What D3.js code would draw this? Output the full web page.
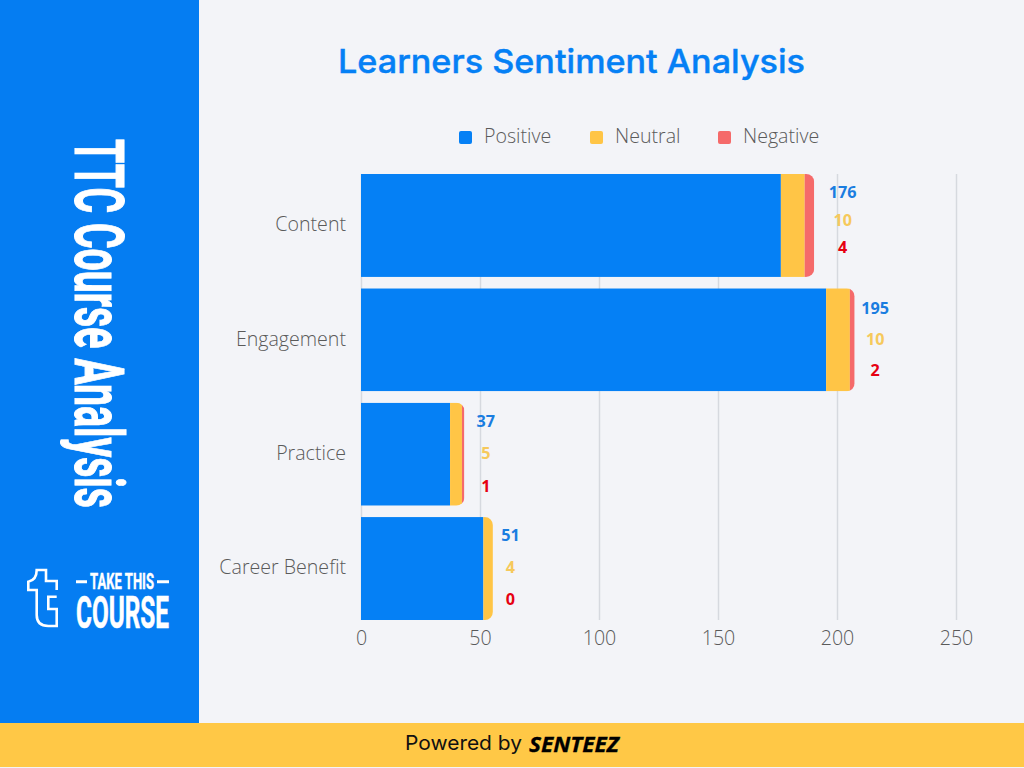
<!DOCTYPE html>
<html>
<head>
<meta charset="utf-8">
<script src="https://cdn.jsdelivr.net/npm/d3@7"></script>
<style>
html, body { margin: 0; padding: 0; background: #f3f4f8; }
svg { display: block; }
text { font-family: "Open Sans", sans-serif; }
.axis text { font-weight: 300; font-size: 19.6px; fill: #5a5a5a; }
.axis .domain { display: none; }
</style>
</head>
<body>
<svg id="chart" width="1024" height="768"></svg>
<script>
// chart values
var categories = ["Content", "Engagement", "Practice", "Career Benefit"];
var positive = [176, 195, 37, 51];
var neutral = [10, 10, 5, 4];
var negative = [4, 2, 1, 0];
var seriesNames = ["Positive", "Neutral", "Negative"];
var xTicks = [0, 50, 100, 150, 200, 250];

var barColors = ["#0580f5", "#ffc546", "#f56a6a"];
var labelColors = ["#1a7de0", "#f6c95c", "#e60012"];
// the value labels are not placed evenly in the original
var labelGap = [28.5, 20.5, 21.5, 17.5];
var labelRow = [27.5, 31, 32.5, 32];
var labelShift = [-5, 0, -0.5, -1];

var svg = d3.select("#chart");

// page blocks
svg.append("rect").attr("width", 1024).attr("height", 768).attr("fill", "#f3f4f8");
svg.append("rect").attr("width", 199).attr("height", 723).attr("fill", "#057df2");
svg.append("rect").attr("y", 723).attr("width", 1024).attr("height", 44).attr("fill", "#ffc846");

// sidebar title, squeezed to the condensed width of the original
var sideTitle = svg.append("text")
    .style("font-family", "Roboto")
    .style("font-weight", 700)
    .style("font-size", "69px")
    .attr("fill", "#fff")
    .attr("stroke", "#fff")
    .attr("stroke-width", 1)
    .text("TTC Course Analysis");
sideTitle.attr("transform", "translate(75,139) rotate(90) scale(" + (369 / sideTitle.node().getComputedTextLength()) + ",1)");

// sidebar logo
var logo = svg.append("g").attr("fill", "none").attr("stroke", "#fff").attr("stroke-width", 2.6);
logo.append("path").attr("d", "M56.7,590 V581 H46 V570 H36.7 Q36.7,580 28.3,581.7 V590 H36.7 V615 Q36.7,626 48.3,626 H56.7 V609 H48.3 V596.7 H56.7");
logo.append("path").attr("d", "M87,581.7 H76 M169,581.7 H157").attr("stroke-width", 3);
svg.append("text").attr("x", 90).attr("y", 589)
    .attr("textLength", 64).attr("lengthAdjust", "spacingAndGlyphs")
    .style("font-family", "Roboto").style("font-weight", 700).style("font-size", "22px")
    .attr("fill", "#fff").attr("stroke", "#fff").attr("stroke-width", 0.4).text("TAKE THIS");
svg.append("text").attr("x", 76).attr("y", 628)
    .attr("textLength", 93).attr("lengthAdjust", "spacingAndGlyphs")
    .style("font-family", "Roboto").style("font-weight", 700).style("font-size", "45px")
    .attr("fill", "#fff").attr("stroke", "#fff").attr("stroke-width", 0.6).text("COURSE");

// footer
svg.append("text").attr("x", 405).attr("y", 750)
    .attr("textLength", 117).attr("lengthAdjust", "spacingAndGlyphs")
    .style("font-family", "Inter").style("font-size", "20px")
    .attr("fill", "#111").text("Powered by");
svg.append("text").attr("x", 529).attr("y", 752)
    .attr("textLength", 90).attr("lengthAdjust", "spacingAndGlyphs")
    .style("font-family", "Open Sans").style("font-weight", 700).style("font-style", "italic").style("font-size", "22px")
    .attr("fill", "#000").attr("stroke", "#000").attr("stroke-width", 0.3).text("SENTEEZ");

// chart title
svg.append("text").attr("x", 338).attr("y", 73)
    .attr("textLength", 467).attr("lengthAdjust", "spacingAndGlyphs")
    .style("font-family", "Inter").style("font-weight", 500).style("font-size", "33px")
    .attr("fill", "#0580f5").attr("stroke", "#0580f5").attr("stroke-width", 0.4)
    .text("Learners Sentiment Analysis");

// legend
var legendX = d3.scaleOrdinal().domain(seriesNames).range([459, 590, 718]);
var legend = svg.selectAll("g.legend").data(seriesNames).enter().append("g")
    .attr("class", "legend")
    .attr("transform", function (d) { return "translate(" + legendX(d) + ",131)"; });
legend.append("rect").attr("width", 13).attr("height", 13).attr("rx", 2)
    .attr("fill", function (d, i) { return barColors[i]; });
legend.append("text").attr("x", 25).attr("y", 12)
    .style("font-weight", 300).style("font-size", "19.6px").attr("fill", "#5a5a5a")
    .text(function (d) { return d; });

// scales
var x = d3.scaleLinear().domain([0, 250]).range([362, 957]);
var y = d3.scaleBand().domain(categories).range([174, 620]).paddingInner(0.1);

var rows = categories.map(function (c, i) {
    return {category: c, Positive: positive[i], Neutral: neutral[i], Negative: negative[i]};
});
var stacked = d3.stack().keys(seriesNames)(rows);

// axes, the grid sits a pixel left of the bars in the original
var xAxis = svg.append("g").attr("class", "axis")
    .attr("transform", "translate(-1,620)")
    .call(d3.axisBottom(x).tickValues(xTicks).tickFormat(d3.format("d")).tickSize(-446).tickPadding(12));
xAxis.selectAll(".tick text").attr("y", 11);
xAxis.selectAll(".tick line").attr("stroke", "#d6d9df").attr("stroke-width", 1.5).attr("y2", -446);

svg.append("g").attr("class", "axis")
    .attr("transform", "translate(361,-0.5)")
    .call(d3.axisLeft(y).tickSize(0).tickPadding(15));

// clip each stack so only its right end gets round corners
var defs = svg.append("defs");
rows.forEach(function (r, i) {
    var total = positive[i] + neutral[i] + negative[i];
    defs.append("clipPath").attr("id", "clip" + i).append("rect")
        .attr("x", x(0) - 12)
        .attr("y", y(r.category))
        .attr("width", x(total) - x(0) + 12)
        .attr("height", y.bandwidth())
        .attr("rx", 8);
});

// bars
svg.selectAll("g.series").data(stacked).enter().append("g")
    .attr("class", "series")
    .attr("fill", function (d, i) { return barColors[i]; })
    .selectAll("rect").data(function (d) { return d; }).enter().append("rect")
    .attr("clip-path", function (d, i) { return "url(#clip" + i + ")"; })
    .attr("x", function (d) { return x(d[0]) - (d[0] === 0 ? 1 : 0); })
    .attr("y", function (d) { return y(d.data.category); })
    .attr("width", function (d) { return x(d[1]) - x(d[0]) + (d[0] === 0 ? 1 : 0); })
    .attr("height", y.bandwidth());

// value labels
stacked.forEach(function (s, k) {
    svg.selectAll("text.val" + k).data(s).enter().append("text")
        .attr("class", "val" + k)
        .attr("text-anchor", "middle")
        .attr("x", function (d, i) { return x(stacked[2][i][1]) + labelGap[i]; })
        .attr("y", function (d, i) {
            return y(d.data.category) + y.bandwidth() / 2 + labelShift[i] + (k - 1) * labelRow[i] + 5.5;
        })
        .attr("fill", labelColors[k])
        .style("font-weight", 700)
        .style("font-size", "16.2px")
        .text(function (d) { return d[1] - d[0]; });
});
</script>
</body>
</html>
